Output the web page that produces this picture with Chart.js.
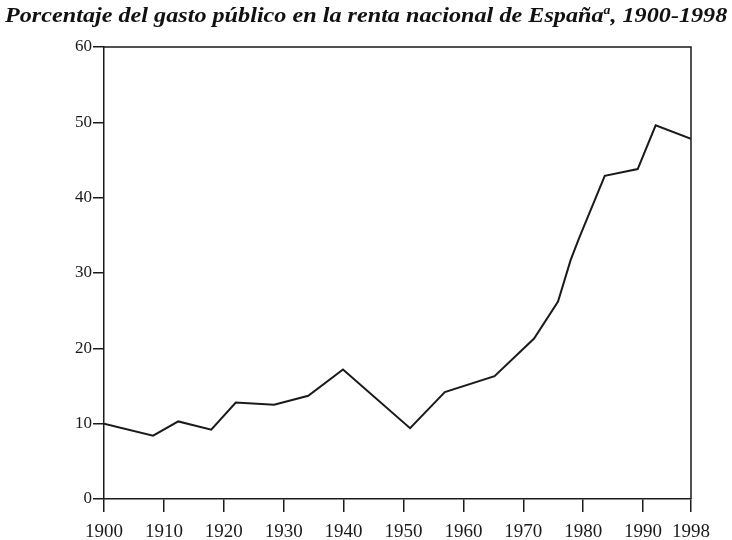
<!DOCTYPE html>
<html>
<head>
<meta charset="utf-8">
<script src="https://cdn.jsdelivr.net/npm/chart.js"></script>
<style>
    body { margin: 0; background: #fff; }
    #wrap { position: absolute; left: 0; top: 0; width: 732px; height: 540px; }
    #title {
        position: absolute; left: 5px; top: 3px;
        font: italic bold 21px "Liberation Serif", serif;
        color: #111; white-space: nowrap; transform-origin: 0 0;
    }
    #title sup { font-size: 12px; }
</style>
</head>
<body>
<div id="wrap"><canvas id="gastoChart" width="732" height="540"></canvas></div>
<div id="title">Porcentaje del gasto público en la renta nacional de España<sup>a</sup>, 1900-1998</div>
<script>
// datos
const years = [1900, 1908.2, 1912.4, 1917.9, 1922.0, 1928.4, 1934.1, 1939.9, 1951.1, 1956.9,
               1965.2, 1971.8, 1975.8, 1977.9, 1979.3, 1983.6, 1989.1, 1992.1, 1998];
const gasto = [10.0, 8.4, 10.3, 9.2, 12.8, 12.5, 13.7, 17.2, 9.4, 14.2,
               16.3, 21.3, 26.2, 31.7, 34.6, 42.9, 43.8, 49.6, 47.8];
const xTicks = [1900, 1910, 1920, 1930, 1940, 1950, 1960, 1970, 1980, 1990, 1998];
const yTicks = [0, 10, 20, 30, 40, 50, 60];

const ink = '#1a1a1a';
const serif = '"Liberation Serif", serif';

// ajustar el título al ancho del original
const title = document.getElementById('title');
title.style.transform = `scaleX(${722 / title.offsetWidth})`;

// marco superior y derecho
const frame = {
    id: 'frame',
    afterDraw(chart) {
        const { ctx, chartArea: a } = chart;
        ctx.save();
        ctx.strokeStyle = ink;
        ctx.lineWidth = 1.5;
        ctx.beginPath();
        ctx.moveTo(a.left, a.top);
        ctx.lineTo(a.right, a.top);
        ctx.lineTo(a.right, a.bottom);
        ctx.stroke();
        ctx.restore();
    }
};

new Chart(document.getElementById('gastoChart'), {
    type: 'line',
    data: {
        datasets: [{
            data: years.map((y, i) => ({ x: y, y: gasto[i] })),
            borderColor: ink,
            borderWidth: 2,
            pointRadius: 0,
            tension: 0,
        }],
    },
    options: {
        responsive: false,
        animation: false,
        layout: { padding: { top: 47, right: 41, left: 0, bottom: 0 } },
        plugins: {
            legend: { display: false },
            tooltip: { enabled: false },
        },
        scales: {
            x: {
                type: 'linear',
                min: 1900,
                max: 1998,
                afterBuildTicks: s => { s.ticks = xTicks.map(v => ({ value: v })); },
                afterFit: s => { s.height = 41; },
                ticks: {
                    font: { family: serif, size: 19 },
                    color: ink,
                    padding: 9,
                    maxRotation: 0,
                    autoSkip: false,
                    callback: v => String(v),
                },
                grid: { drawOnChartArea: false, tickLength: 13, color: ink, lineWidth: 1.5 },
                border: { color: ink, width: 1.5 },
            },
            y: {
                min: 0,
                max: 60,
                afterBuildTicks: s => { s.ticks = yTicks.map(v => ({ value: v })); },
                afterFit: s => { s.width = 104; },
                ticks: {
                    font: { family: serif, size: 17 },
                    color: ink,
                    padding: 1,
                },
                grid: { drawOnChartArea: false, tickLength: 11, color: ink, lineWidth: 1.5 },
                border: { color: ink, width: 1.5 },
            },
        },
    },
    plugins: [frame],
});
</script>
</body>
</html>
